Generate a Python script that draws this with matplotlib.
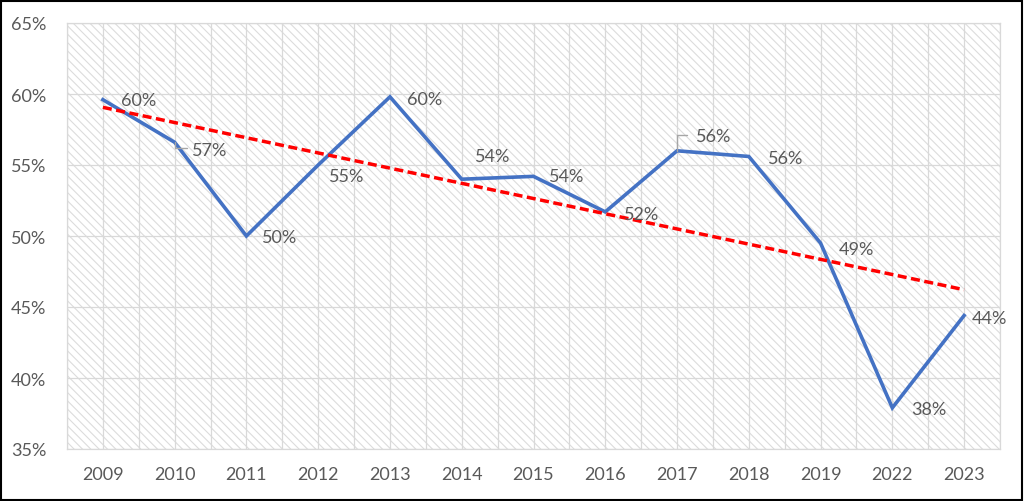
import numpy as np
import matplotlib
matplotlib.use("Agg")
import matplotlib.pyplot as plt
from matplotlib.patches import Rectangle

plt.rcParams['font.family'] = ['Lato', 'DejaVu Sans']
plt.rcParams['hatch.linewidth'] = 0.8

years = ["2009", "2010", "2011", "2012", "2013", "2014", "2015",
         "2016", "2017", "2018", "2019", "2022", "2023"]
values = [59.6, 56.6, 50.0, 55.0, 59.8, 54.0, 54.2, 51.7, 56.0, 55.6, 49.5, 37.9, 44.4]
labels = ["60%", "57%", "50%", "55%", "60%", "54%", "54%", "52%", "56%", "56%", "49%", "38%", "44%"]
# label offsets in pixels (dx right, dy up)
label_dx = [18, 17, 16, 11, 17, 13, 15, 19, 19, 19, 18, 19, 8]
label_dy = [0, -8, -1, -11, -2, 23, 0, -2, 15, -2, -6, -1, -2]

TXT = '#595959'
GRID = '#d9d9d9'
FS = 13

fig = plt.figure(figsize=(10.24, 5.02), dpi=100)
ax = fig.add_axes([67/1024, 1 - 450/502, (1000-67)/1024, (450-24)/502])

x = np.arange(len(years))
ax.set_xlim(-0.5, len(years) - 0.5)
ax.set_ylim(35, 65)

# hatched background
bg = Rectangle((0, 0), 1, 1, transform=ax.transAxes, facecolor='white',
               edgecolor='#dcdcdc', hatch='\\\\\\\\', linewidth=0, zorder=0)
ax.add_patch(bg)
ax.set_facecolor('white')

ax.set_xticks(x)
ax.set_xticks(np.arange(-0.5, len(years), 1.0), minor=True)
ax.set_xticklabels(years)
ax.set_yticks(np.arange(35, 66, 5))
ax.set_yticklabels([f"{v}%" for v in range(35, 66, 5)])
ax.grid(True, which='both', axis='x', color=GRID, linewidth=0.9, zorder=1)
ax.grid(True, which='major', axis='y', color=GRID, linewidth=0.9, zorder=1)
ax.set_axisbelow(True)
ax.tick_params(which='both', length=0)
ax.tick_params(axis='x', pad=12, labelsize=FS, labelcolor=TXT)
ax.tick_params(axis='y', pad=15, labelsize=FS, labelcolor=TXT)
for s in ax.spines.values():
    s.set_color(GRID)
    s.set_linewidth(0.9)

ax.plot(x, values, color='#4472C4', linewidth=2.6, zorder=3, solid_joinstyle='miter')

coef = np.polyfit(x, values, 1)
trend = np.polyval(coef, x)
ax.plot(x, trend, color='#FF0000', linewidth=2.5, linestyle=(0, (2.6, 1.3)), zorder=4)

for i, (v, lab) in enumerate(zip(values, labels)):
    ax.annotate(lab, (x[i], v), xytext=(label_dx[i] * 0.72, label_dy[i] * 0.72),
                textcoords='offset points', ha='left', va='center',
                fontsize=FS, color=TXT, zorder=5)

# leader lines
ax.annotate('', (x[1], values[1]), xytext=(12 * 0.72, -6 * 0.72),
            textcoords='offset points',
            arrowprops=dict(arrowstyle='-', color='#a6a6a6', lw=1.0,
                            shrinkA=0, shrinkB=0, connectionstyle='angle,angleA=0,angleB=90,rad=0'))
ax.annotate('', (x[8], values[8]), xytext=(10 * 0.72, 16 * 0.72),
            textcoords='offset points',
            arrowprops=dict(arrowstyle='-', color='#a6a6a6', lw=1.0,
                            shrinkA=0, shrinkB=0, connectionstyle='angle,angleA=0,angleB=90,rad=0'))

# figure border
fig.patches.append(Rectangle((0.001, 0.002), 0.997, 0.995, transform=fig.transFigure,
                             fill=False, edgecolor='black', linewidth=1.5))

fig.savefig('out.png', dpi=100, facecolor='white')
